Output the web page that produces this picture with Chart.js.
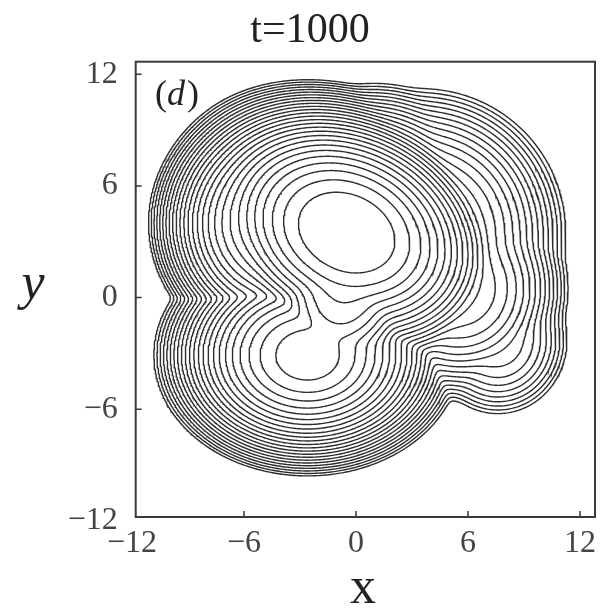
<!DOCTYPE html>
<html>
<head>
<meta charset="utf-8">
<script src="https://cdn.jsdelivr.net/npm/chart.js@4.4.1/dist/chart.umd.min.js"></script>
<style>
  html, body { margin: 0; padding: 0; background: #fff; }
  #wrap { width: 611px; height: 609px; }
</style>
</head>
<body>
<div id="wrap"><canvas id="contourChart"></canvas></div>
<script>
// =================== DATA ===================
const tickValues = [-12, -6, 0, 6, 12];
const xRange = [-11.8, 12.8];
const yRange = [-11.8, 12.68];

// surface built from tilted power-law lobes: main peak, upper-left shoulder,
// downward ridge, lower-left plateau, top, upper-right and right shoulders, lower-right bulb
const lobeX       = [-0.5, -4.0, -0.7, -2.6,  1.0,  3.5,  5.5,  7.6];
const lobeY       = [ 3.5,  4.0,  0.4, -3.1,  5.0,  3.5,  0.5, -2.3];
const lobeHeight  = [ 0.1, -6.0, -3.0, -4.3, -10.0, -12.0, -13.0, -18.3];
const lobeSpreadX = [2.58,  2.0,  1.8, 1.99,  2.0,  2.5,  1.95,  1.5];
const lobeSpreadY = [1.95,  2.0,  1.5, 1.57,  2.0,  2.5,  2.0,   1.6];
const lobeTilt    = [-25,   0,    80,   0,    0,    0,    0,     0];
const lobePower   = [2.4,  2.4,  2.4,  2.2,  2.4,  2.4,  2.4,   2.4];
const BLEND = 0.7;

const contourLevels = [-1, -2, -3, -4, -5, -6, -7, -8, -9, -10,
                       -11, -12, -13, -14, -15, -16, -17, -18, -19, -20,
                       -21, -22, -23, -24, -25, -26, -27];

// =================== FIELD + MARCHING SQUARES ===================
function fieldValue(x, y) {
  const terms = lobeX.map((cx, i) => {
    const t = lobeTilt[i] * Math.PI / 180;
    const dx = x - cx, dy = y - lobeY[i];
    const u = (dx * Math.cos(t) + dy * Math.sin(t)) / lobeSpreadX[i];
    const v = (-dx * Math.sin(t) + dy * Math.cos(t)) / lobeSpreadY[i];
    return (lobeHeight[i] - Math.pow(u * u + v * v, lobePower[i] / 2)) / BLEND;
  });
  const top = Math.max(...terms);
  const sum = terms.reduce((s, a) => s + Math.exp(a - top), 0);
  return BLEND * (top + Math.log(sum));
}

const NX = 300, NY = 300;
const stepX = (xRange[1] - xRange[0]) / (NX - 1);
const stepY = (yRange[1] - yRange[0]) / (NY - 1);
const grid = new Float64Array(NX * NY);
for (let j = 0; j < NY; j++) {
  for (let i = 0; i < NX; i++) {
    grid[j * NX + i] = fieldValue(xRange[0] + i * stepX, yRange[0] + j * stepY);
  }
}

function traceLevel(level) {
  const pointOf = new Map();
  const links = new Map();

  function edge(i, j, dir) {
    const k = ((j * NX + i) << 1) | dir;
    if (!pointOf.has(k)) {
      const a = grid[j * NX + i];
      const b = dir === 0 ? grid[j * NX + i + 1] : grid[(j + 1) * NX + i];
      const t = (level - a) / (b - a);
      const x = xRange[0] + (i + (dir === 0 ? t : 0)) * stepX;
      const y = yRange[0] + (j + (dir === 1 ? t : 0)) * stepY;
      pointOf.set(k, { x, y });
    }
    return k;
  }
  function link(a, b) {
    if (!links.has(a)) links.set(a, []);
    if (!links.has(b)) links.set(b, []);
    links.get(a).push(b);
    links.get(b).push(a);
  }

  for (let j = 0; j < NY - 1; j++) {
    for (let i = 0; i < NX - 1; i++) {
      const v0 = grid[j * NX + i], v1 = grid[j * NX + i + 1];
      const v2 = grid[(j + 1) * NX + i + 1], v3 = grid[(j + 1) * NX + i];
      const idx = (v0 > level ? 1 : 0) | (v1 > level ? 2 : 0) | (v2 > level ? 4 : 0) | (v3 > level ? 8 : 0);
      if (idx === 0 || idx === 15) continue;
      const e = [() => edge(i, j, 0), () => edge(i + 1, j, 1), () => edge(i, j + 1, 0), () => edge(i, j, 1)];
      const centerUp = (v0 + v1 + v2 + v3) / 4 > level;
      switch (idx) {
        case 1: case 14: link(e[3](), e[0]()); break;
        case 2: case 13: link(e[0](), e[1]()); break;
        case 3: case 12: link(e[3](), e[1]()); break;
        case 4: case 11: link(e[1](), e[2]()); break;
        case 6: case 9:  link(e[0](), e[2]()); break;
        case 7: case 8:  link(e[3](), e[2]()); break;
        case 5:
          if (centerUp) { link(e[0](), e[1]()); link(e[2](), e[3]()); }
          else { link(e[3](), e[0]()); link(e[1](), e[2]()); }
          break;
        case 10:
          if (centerUp) { link(e[3](), e[0]()); link(e[1](), e[2]()); }
          else { link(e[0](), e[1]()); link(e[2](), e[3]()); }
          break;
      }
    }
  }

  const used = new Set();
  const lines = [];
  function walk(start) {
    const chain = [start];
    used.add(start);
    let prev = -1, cur = start;
    for (;;) {
      const nbrs = links.get(cur);
      const next = nbrs.find(n => n !== prev && !used.has(n));
      if (next === undefined) {
        if (chain.length > 2 && nbrs.includes(start)) chain.push(start);
        break;
      }
      chain.push(next);
      used.add(next);
      prev = cur;
      cur = next;
    }
    return chain.map(k => pointOf.get(k));
  }
  for (const [k, n] of links) if (n.length === 1 && !used.has(k)) lines.push(walk(k));
  for (const k of links.keys()) if (!used.has(k)) lines.push(walk(k));
  return lines;
}

// =================== DATASETS ===================
const datasets = [];
contourLevels.forEach(level => {
  traceLevel(level).forEach(line => {
    datasets.push({
      data: line,
      showLine: true,
      pointRadius: 0,
      borderColor: "#2e2e2e",
      borderWidth: 1.4,
      fill: false,
      tension: 0
    });
  });
});

// =================== FRAME, TICKS, LABELS ===================
const SERIF = "'Liberation Serif', 'Times New Roman', serif";

const framePlugin = {
  id: "frameAndLabels",
  afterDraw(chart) {
    const { ctx, chartArea: a, scales } = chart;
    ctx.save();
    ctx.strokeStyle = "#3a3a3a";
    ctx.lineWidth = 2;
    ctx.strokeRect(a.left, a.top, a.right - a.left, a.bottom - a.top);

    ctx.lineWidth = 1.5;
    ctx.beginPath();
    tickValues.forEach(v => {
      const px = scales.x.getPixelForValue(v);
      if (px > a.left + 2 && px < a.right - 2) {
        ctx.moveTo(px, a.bottom);
        ctx.lineTo(px, a.bottom - 6);
      }
      const py = scales.y.getPixelForValue(v);
      if (py > a.top + 2 && py < a.bottom - 2) {
        ctx.moveTo(a.left, py);
        ctx.lineTo(a.left + 6, py);
      }
    });
    ctx.stroke();

    // axis names
    ctx.fillStyle = "#222";
    ctx.textAlign = "center";
    ctx.textBaseline = "alphabetic";
    ctx.font = `52px ${SERIF}`;
    ctx.fillText("x", 363, 603);
    ctx.font = `italic 52px ${SERIF}`;
    ctx.fillText("y", 33, 299);

    // panel tag (d)
    ctx.textAlign = "left";
    ctx.font = `36px ${SERIF}`;
    let x = 155;
    ctx.fillText("(", x, 105);
    x += ctx.measureText("(").width;
    ctx.font = `italic 36px ${SERIF}`;
    ctx.fillText("d", x, 105);
    x += ctx.measureText("d").width + 2;
    ctx.font = `36px ${SERIF}`;
    ctx.fillText(")", x, 105);
    ctx.restore();
  }
};

function tickLabel(v) {
  return v < 0 ? "\u2212" + Math.abs(v) : String(v);
}

new Chart(document.getElementById("contourChart"), {
  type: "scatter",
  data: { datasets },
  options: {
    responsive: true,
    maintainAspectRatio: false,
    animation: false,
    events: [],
    layout: { padding: { left: 25, right: 16, top: 0, bottom: 0 } },
    plugins: {
      legend: { display: false },
      tooltip: { enabled: false },
      title: {
        display: true,
        text: "t=1000",
        color: "#222",
        font: { family: SERIF, size: 42, weight: "normal" },
        padding: { top: 6, bottom: 5.3 }
      }
    },
    scales: {
      x: {
        type: "linear",
        min: xRange[0],
        max: xRange[1],
        afterBuildTicks: scale => { scale.ticks = tickValues.map(v => ({ value: v })); },
        afterFit: scale => { scale.height = 92; },
        grid: { display: false, drawTicks: false },
        border: { display: false },
        ticks: {
          autoSkip: false,
          maxRotation: 0,
          padding: 7,
          color: "#444",
          font: { family: SERIF, size: 32 },
          callback: tickLabel
        }
      },
      y: {
        type: "linear",
        min: yRange[0],
        max: yRange[1],
        afterBuildTicks: scale => { scale.ticks = tickValues.map(v => ({ value: v })); },
        afterFit: scale => { scale.width = 110.7; },
        grid: { display: false, drawTicks: false },
        border: { display: false },
        ticks: {
          autoSkip: false,
          padding: 18,
          color: "#444",
          font: { family: SERIF, size: 32 },
          callback: tickLabel
        }
      }
    }
  },
  plugins: [framePlugin]
});
</script>
</body>
</html>
